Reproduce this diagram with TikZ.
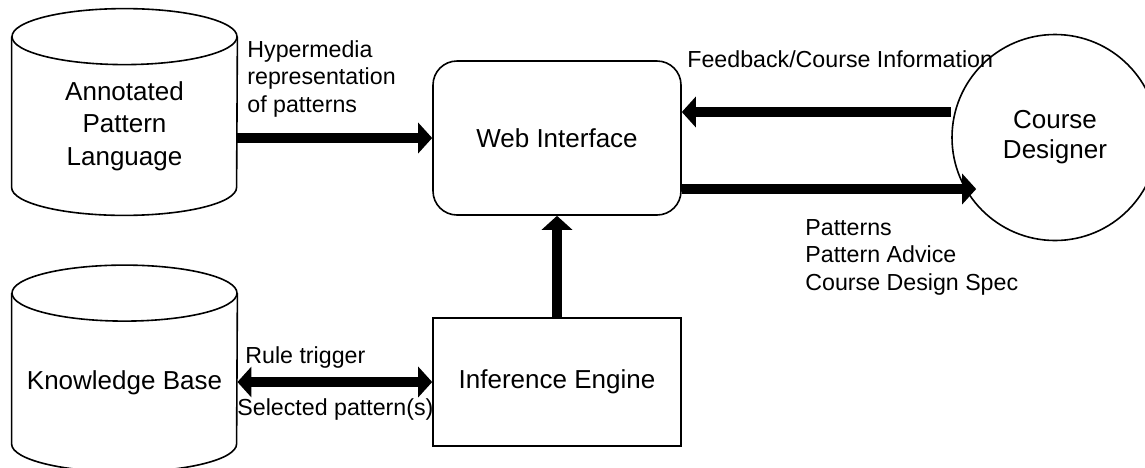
\documentclass[tikz,border=0pt]{standalone}
\usepackage{fontspec}
\setmainfont{Liberation Sans}
\usetikzlibrary{arrows.meta,positioning}

\begin{document}
\begin{tikzpicture}[x=0.5pt,y=-0.5pt,
        box/.style={draw,line width=0.8pt,inner sep=0pt,minimum width=124pt,font=\fontsize{13}{16}\selectfont,align=center},
        cyl/.style={inner sep=0pt,minimum width=112.5pt,minimum height=61pt,font=\fontsize{13}{16.25}\selectfont,align=center},
        lbl/.style={inner sep=0pt,font=\fontsize{11.6}{13.75}\selectfont,align=left},
        flow/.style={line width=4.75pt,-{Triangle[length=7pt,width=15pt]}},
        flowboth/.style={line width=4.75pt,{Triangle[length=7pt,width=15pt]}-{Triangle[length=7pt,width=15pt]}}]
        \useasboundingbox (0,0) rectangle (1145,467);

        % 数据库 (圆柱)
        \node[cyl] (apl) at (124.5,126) {Annotated\\Pattern\\Language};
        \node[cyl] (kb) at (124.5,382.5) {Knowledge Base};
        \draw[line width=0.8pt] ([yshift=14pt]apl.north) ellipse[x radius=112.5,y radius=28];
        \draw[line width=0.8pt] ([yshift=14pt]apl.north west) -- (apl.south west)
            arc[start angle=180,end angle=0,x radius=112.5,y radius=28] -- ([yshift=14pt]apl.north east);
        \draw[line width=0.8pt] ([yshift=14pt]kb.north) ellipse[x radius=112.5,y radius=28];
        \draw[line width=0.8pt] ([yshift=14pt]kb.north west) -- (kb.south west)
            arc[start angle=180,end angle=0,x radius=112.5,y radius=28] -- ([yshift=14pt]kb.north east);

        % 方框与圆
        \node[box,rounded corners=12pt,minimum height=77pt] (web) at (557,138) {Web Interface};
        \node[box,minimum height=64pt] (ie) at (557,382) {Inference Engine};
        \node[draw,circle,line width=0.8pt,inner sep=0pt,minimum size=103pt,font=\fontsize{13}{15}\selectfont,align=center] (cd) at (1055,137.5) {Course\\Designer};

        % 箭头
        \draw[flow] (apl.east |- web.west) -- (web.west);
        \draw[flow] (ie.north) -- (web.south);
        \draw[flowboth] (kb.east |- ie.west) -- (ie.west);
        \coordinate (fb) at ([yshift=13pt]web.east);
        \coordinate (pa) at ([yshift=-25.5pt]web.east);
        \draw[flow] (fb -| cd.west) -- (fb);
        \draw[flow,shorten >=-12.5pt] (pa) -- (pa -| cd.west);

        % 标注
        \node[lbl,anchor=north west] (hyp) at (247,40) {Hypermedia\\representation\\of patterns};
        \node[lbl,anchor=base west] (fbl) at (687,67) {Feedback/Course Information};
        \node[lbl,anchor=north west] (pat) at (805,219) {Patterns\\Pattern Advice\\Course Design Spec};
        \node[lbl,anchor=base west] (rt) at (245,363) {Rule trigger};
        \node[lbl,anchor=base west] (sp) at (237,415) {Selected pattern(s)};

    \end{tikzpicture}
\end{document}
